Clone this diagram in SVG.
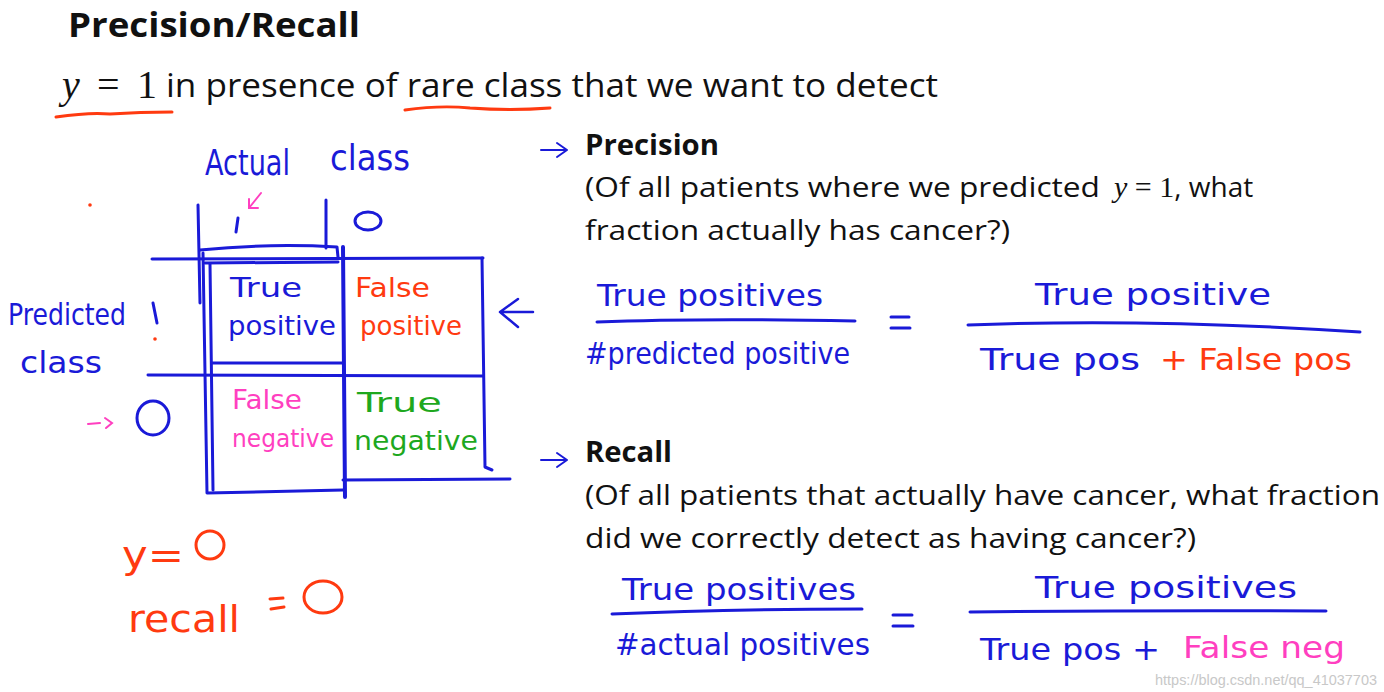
<svg xmlns="http://www.w3.org/2000/svg" width="1384" height="692" viewBox="0 0 1384 692">
<defs>
<style>
.slide{font-family:"Open Sans","Liberation Sans",sans-serif;fill:#111}
.bold{font-weight:bold}
.math{font-family:"Liberation Serif",serif;fill:#111}
.hw{font-family:"DejaVu Sans","Liberation Sans",sans-serif;font-weight:normal}
.blue{fill:#1a1ad8}
.red{fill:#ff3a10}
.mag{fill:#ff3fc0}
.grn{fill:#1ea81e}
.bl{stroke:#1a1ad8;fill:none;stroke-linecap:round;stroke-linejoin:round}
.rl{stroke:#ff3a10;fill:none;stroke-linecap:round}
</style>
</defs>
<rect width="1384" height="692" fill="#ffffff"/>

<g id="title">
<text class="slide bold" x="68" y="37" font-size="34" textLength="292" lengthAdjust="spacingAndGlyphs">Precision/Recall</text>
</g>

<g id="subtitle">
<text class="math" x="62" y="98" font-size="40" textLength="95" lengthAdjust="spacing"><tspan font-style="italic">y</tspan> = 1</text>
<text class="slide" x="166" y="97" font-size="32" textLength="772" lengthAdjust="spacingAndGlyphs">in presence of rare class that we want to detect</text>
<path class="rl" stroke-width="3" d="M56 117 Q90 112 110 114 Q140 112 172 112"/>
<path class="rl" stroke-width="3" d="M405 110 Q440 105 470 108 Q510 111 550 108"/>
</g>

<g id="precision">
<path class="bl" stroke-width="2" d="M541 150 L567 150 M557 143 L567 150 L557 157"/>
<text class="slide bold" x="585" y="155" font-size="28" textLength="134" lengthAdjust="spacingAndGlyphs">Precision</text>
<text class="slide" x="585" y="197" font-size="28"><tspan textLength="515" lengthAdjust="spacingAndGlyphs">(Of all patients where we predicted</tspan><tspan class="math" font-style="italic" font-size="30" dx="14">y</tspan><tspan class="math" font-size="30"> = 1</tspan><tspan>, what</tspan></text>
<text class="slide" x="585" y="240" font-size="28" textLength="425" lengthAdjust="spacingAndGlyphs">fraction actually has cancer?)</text>
</g>

<g id="precision-formula">
<text class="hw blue" x="597" y="306" font-size="30" textLength="226" lengthAdjust="spacingAndGlyphs">True positives</text>
<path class="bl" stroke-width="3" d="M597 322 Q700 318 855 321"/>
<text class="hw blue" x="585" y="364" font-size="30" textLength="265" lengthAdjust="spacingAndGlyphs">#predicted positive</text>
<path class="bl" stroke-width="3" d="M891 317 L909 317 M891 328 L910 328"/>
<text class="hw blue" x="1035" y="305" font-size="30" textLength="236" lengthAdjust="spacingAndGlyphs">True positive</text>
<path class="bl" stroke-width="3" d="M968 325 Q1150 318 1360 332"/>
<text class="hw blue" x="980" y="370" font-size="30" textLength="160" lengthAdjust="spacingAndGlyphs">True pos</text>
<text class="hw red" x="1160" y="370" font-size="30" textLength="192" lengthAdjust="spacingAndGlyphs">+ False pos</text>
<path class="bl" stroke-width="2.5" d="M533 312 L500 312 M518 299 L500 312 L518 327"/>
</g>

<g id="recall">
<path class="bl" stroke-width="2" d="M541 460 L567 460 M557 453 L567 460 L557 467"/>
<text class="slide bold" x="585" y="462" font-size="28" textLength="87" lengthAdjust="spacingAndGlyphs">Recall</text>
<text class="slide" x="585" y="505" font-size="28" textLength="795" lengthAdjust="spacingAndGlyphs">(Of all patients that actually have cancer, what fraction</text>
<text class="slide" x="585" y="548" font-size="28" textLength="611" lengthAdjust="spacingAndGlyphs">did we correctly detect as having cancer?)</text>
</g>

<g id="recall-formula">
<text class="hw blue" x="622" y="600" font-size="30" textLength="234" lengthAdjust="spacingAndGlyphs">True positives</text>
<path class="bl" stroke-width="3" d="M612 614 Q720 609 862 609"/>
<text class="hw blue" x="615" y="655" font-size="30" textLength="255" lengthAdjust="spacingAndGlyphs">#actual positives</text>
<path class="bl" stroke-width="3" d="M893 615 L912 615 M893 626 L913 626"/>
<text class="hw blue" x="1035" y="598" font-size="30" textLength="262" lengthAdjust="spacingAndGlyphs">True positives</text>
<path class="bl" stroke-width="3" d="M970 612 Q1150 610 1326 611"/>
<text class="hw blue" x="980" y="660" font-size="30" textLength="180" lengthAdjust="spacingAndGlyphs">True pos +</text>
<text class="hw mag" x="1183" y="658" font-size="30" textLength="162" lengthAdjust="spacingAndGlyphs">False neg</text>
</g>

<g id="matrix">
<text class="hw blue" x="205" y="175" font-size="36" textLength="85" lengthAdjust="spacingAndGlyphs">Actual</text>
<text class="hw blue" x="330" y="170" font-size="36" textLength="80" lengthAdjust="spacingAndGlyphs">class</text>
<path stroke="#ff3fc0" stroke-width="2" fill="none" stroke-linecap="round" d="M261 193 L249 208 M249 199 L249 208 L258 208"/>
<path class="bl" stroke-width="3" d="M238 218 L236 232"/>
<ellipse class="bl" stroke-width="3" cx="368" cy="221" rx="13" ry="9"/>
<path class="bl" stroke-width="3" d="M198 205 L200 303"/>
<path class="bl" stroke-width="3" d="M326 200 L326 248"/>
<path class="bl" stroke-width="3" d="M152 259 L483 258"/>
<path class="bl" stroke-width="3" d="M148 375 L483 376"/>
<path class="bl" stroke-width="3" d="M482 258 L485 467 L492 470"/>
<path class="bl" stroke-width="4" d="M343 247 L345 497"/>
<path class="bl" stroke-width="3" d="M200 250 Q270 243 337 247 L338 257"/>
<path class="bl" stroke-width="3" d="M203 253 L207 493 L343 490"/>
<path class="bl" stroke-width="3" d="M210 264 L213 490"/>
<path class="bl" stroke-width="3" d="M205 263 L338 262 M212 363 L342 363"/>
<path class="bl" stroke-width="3" d="M343 480 L510 479"/>
<text class="hw blue" x="230" y="297" font-size="27" textLength="72" lengthAdjust="spacingAndGlyphs">True</text>
<text class="hw blue" x="228" y="335" font-size="27" textLength="108" lengthAdjust="spacingAndGlyphs">positive</text>
<text class="hw red" x="355" y="297" font-size="27" textLength="75" lengthAdjust="spacingAndGlyphs">False</text>
<text class="hw red" x="360" y="335" font-size="27" textLength="102" lengthAdjust="spacingAndGlyphs">positive</text>
<text class="hw mag" x="232" y="409" font-size="27" textLength="70" lengthAdjust="spacingAndGlyphs">False</text>
<text class="hw mag" x="232" y="447" font-size="24" textLength="102" lengthAdjust="spacingAndGlyphs">negative</text>
<text class="hw grn" x="357" y="412" font-size="27" textLength="85" lengthAdjust="spacingAndGlyphs">True</text>
<text class="hw grn" x="354" y="450" font-size="27" textLength="124" lengthAdjust="spacingAndGlyphs">negative</text>
<text class="hw blue" x="8" y="325" font-size="30" textLength="118" lengthAdjust="spacingAndGlyphs">Predicted</text>
<text class="hw blue" x="20" y="373" font-size="30" textLength="82" lengthAdjust="spacingAndGlyphs">class</text>
<path class="bl" stroke-width="3" d="M153 303 L157 323"/>
<circle cx="155" cy="339" r="1.8" fill="#ff3a10"/>
<ellipse class="bl" stroke-width="3" cx="153" cy="418" rx="16" ry="17"/>
<path stroke="#ff3fc0" stroke-width="2" fill="none" stroke-linecap="round" d="M88 424 L100 423 M105 418 L112 423 L106 428"/>
<circle cx="90" cy="205" r="1.8" fill="#ff3a10"/>
</g>

<g id="note">
<text class="hw red" x="122" y="568" font-size="38" textLength="62" lengthAdjust="spacingAndGlyphs">y=</text>
<ellipse class="rl" stroke-width="3" cx="210" cy="545" rx="14" ry="14"/>
<text class="hw red" x="128" y="632" font-size="38" textLength="112" lengthAdjust="spacingAndGlyphs">recall</text>
<path class="rl" stroke-width="3" d="M270 599 L283 598 M271 609 L284 607"/>
<ellipse class="rl" stroke-width="3" cx="323" cy="597" rx="19" ry="16"/>
</g>

<g id="watermark">
<text x="1155" y="685" font-family="Liberation Sans, sans-serif" font-size="15" fill="#c8c8c8" textLength="222" lengthAdjust="spacingAndGlyphs">https://blog.csdn.net/qq_41037703</text>
</g>
</svg>
